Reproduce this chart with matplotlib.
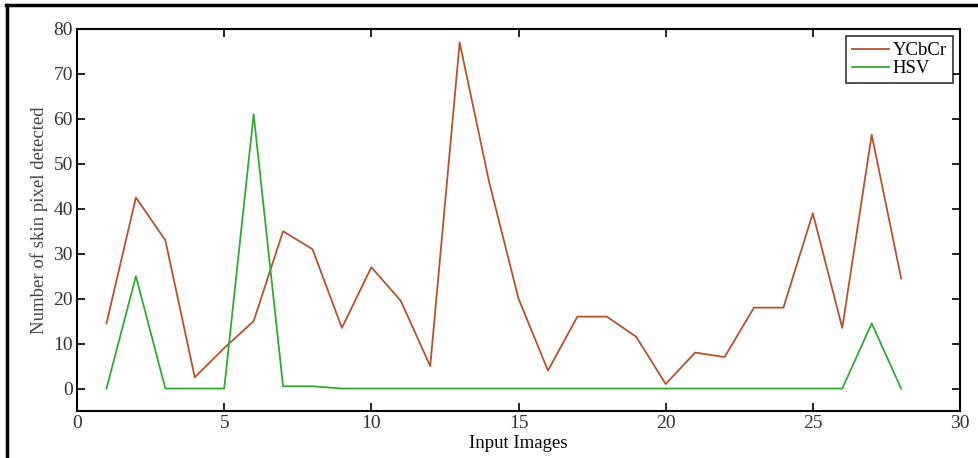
import matplotlib.pyplot as plt
from matplotlib.lines import Line2D

plt.rcParams['font.family'] = ['Liberation Serif', 'DejaVu Serif']

# Data
images = list(range(1, 29))
ycbcr = [14.5, 42.5, 33, 2.5, 9, 15, 35, 31, 13.5, 27, 19.5, 5, 77, 46,
         20, 4, 16, 16, 11.5, 1, 8, 7, 18, 18, 39, 13.5, 56.5, 24.5]
hsv = [0, 25, 0, 0, 0, 61, 0.5, 0.5, 0, 0, 0, 0, 0, 0,
       0, 0, 0, 0, 0, 0, 0, 0, 0, 0, 0, 0, 14.5, 0]

fig = plt.figure(figsize=(9.79, 4.58), dpi=100)
ax = fig.add_axes([0.0787, 0.1026, 0.9019, 0.8341])

ax.plot(images, ycbcr, color='#b5532f', linewidth=1.3, label='YCbCr')
ax.plot(images, hsv, color='#33aa33', linewidth=1.3, label='HSV')

ax.set_xlim(0, 30)
ax.set_ylim(-5, 80)
ax.set_xticks(range(0, 31, 5))
ax.set_yticks(range(0, 81, 10))
ax.tick_params(direction='in', top=True, right=True, labelsize=14,
               length=6, width=1.2, labelcolor='#333333', pad=3)
for s in ax.spines.values():
    s.set_linewidth(1.5)

ax.set_xlabel('Input Images', fontsize=13.5, labelpad=2)
ax.set_ylabel('Number of skin pixel detected', fontsize=13.5, color='#444444', labelpad=4)

leg = ax.legend(loc='upper right', fontsize=13.5, frameon=True, fancybox=False,
                edgecolor='black', handlelength=2.0, handletextpad=0.2,
                borderpad=0.3, labelspacing=0.05, borderaxespad=0.4)
leg.get_frame().set_linewidth(1.2)

# outer frame (top and left edges only visible)
fig.add_artist(Line2D([0.006, 1.0], [0.988, 0.988], transform=fig.transFigure,
                      color='black', linewidth=2.5))
fig.add_artist(Line2D([0.007, 0.007], [0.0, 0.988], transform=fig.transFigure,
                      color='black', linewidth=2.5))

fig.savefig('out.png', dpi=100)
